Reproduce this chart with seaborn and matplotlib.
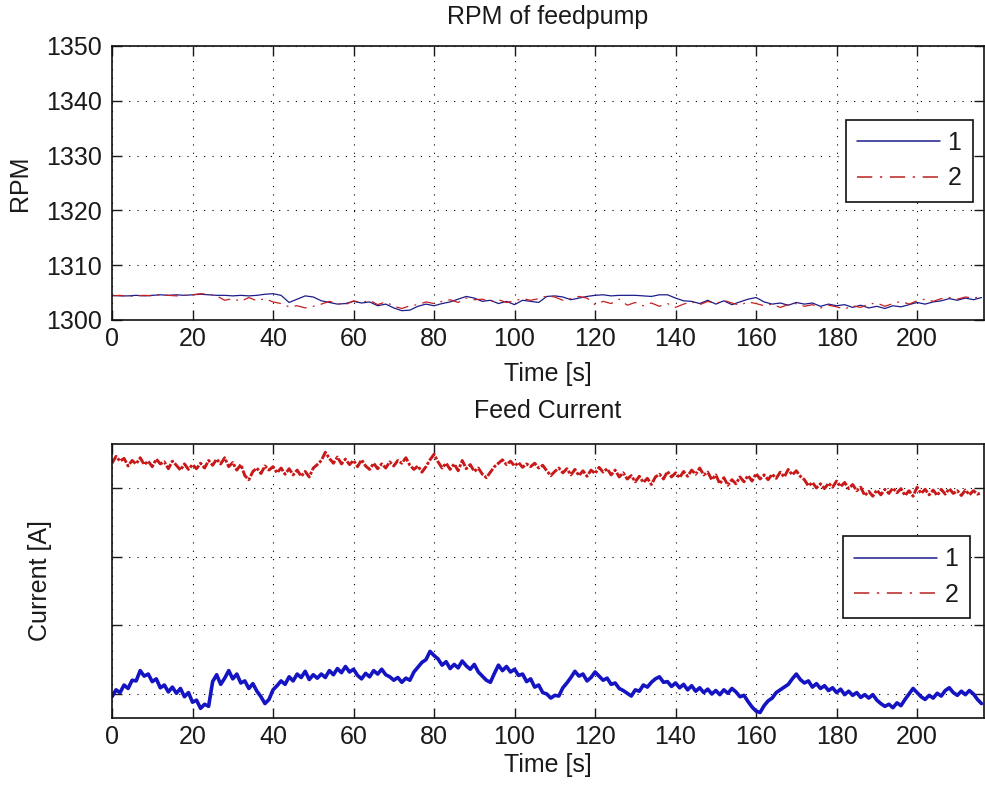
import numpy as np
import pandas as pd
import matplotlib
matplotlib.use("Agg")
import matplotlib.pyplot as plt
import seaborn as sns

# ---------------- data ----------------
series_names = ["1", "2"]
x_ticks = [0, 20, 40, 60, 80, 100, 120, 140, 160, 180, 200]
rpm_ticks = [1300, 1310, 1320, 1330, 1340, 1350]
cur_ticks = [10, 20, 30, 40]

t_rpm = np.arange(0, 217, 2)
rpm_1 = [1304.5, 1304.4, 1304.4, 1304.5, 1304.4, 1304.5, 1304.6, 1304.5, 1304.6, 1304.5,
         1304.6, 1304.7, 1304.6, 1304.5, 1304.5, 1304.4, 1304.5, 1304.4, 1304.5, 1304.7,
         1304.8, 1304.5, 1303.2, 1303.8, 1304.4, 1304.2, 1303.5, 1303.2, 1302.9, 1303.0,
         1303.4, 1303.1, 1303.3, 1302.6, 1302.9, 1302.2, 1301.7, 1301.8, 1302.5, 1302.9,
         1302.6, 1303.0, 1303.3, 1303.8, 1304.3, 1304.0, 1303.4, 1303.6, 1303.0, 1303.4,
         1302.8, 1303.6, 1303.4, 1303.2, 1304.3, 1304.4, 1304.2, 1303.7, 1304.0, 1304.3,
         1304.5, 1304.6, 1304.4, 1304.5, 1304.5, 1304.5, 1304.4, 1304.3, 1304.6, 1304.6,
         1304.0, 1303.5, 1303.4, 1303.0, 1303.6, 1302.9, 1303.5, 1302.8, 1303.3, 1303.8,
         1304.1, 1303.3, 1302.9, 1303.1, 1302.7, 1303.2, 1302.9, 1303.1, 1302.5, 1302.9,
         1302.6, 1302.8, 1302.3, 1302.7, 1302.2, 1302.5, 1302.1, 1302.6, 1302.4, 1302.8,
         1303.2, 1302.9, 1303.3, 1303.5, 1303.9, 1303.6, 1304.0, 1303.7, 1304.1]
rpm_2 = [1304.4, 1304.5, 1304.3, 1304.4, 1304.5, 1304.4, 1304.6, 1304.5, 1304.4, 1304.5,
         1304.6, 1304.8, 1304.7, 1304.4, 1303.6, 1303.9, 1303.4, 1304.1, 1303.5, 1303.9,
         1303.3, 1303.0, 1302.4, 1302.6, 1302.2, 1302.5, 1302.9, 1303.4, 1303.0, 1302.8,
         1303.5, 1303.2, 1303.6, 1302.8, 1303.3, 1302.5, 1302.1, 1302.6, 1302.8, 1303.3,
         1303.0, 1303.4, 1303.7, 1303.2, 1304.0, 1303.7, 1303.8, 1303.3, 1303.7, 1303.2,
         1303.5, 1303.9, 1303.6, 1303.9, 1304.4, 1304.2, 1303.6, 1303.9, 1304.3, 1304.0,
         1302.8, 1303.4, 1303.0, 1303.8, 1302.7, 1303.2, 1302.6, 1303.1, 1302.5, 1303.0,
         1302.3, 1302.9, 1303.3, 1302.8, 1303.4, 1303.0, 1303.6, 1303.1, 1302.7, 1303.3,
         1303.0, 1302.6, 1302.9, 1302.3, 1302.8, 1303.0, 1302.5, 1302.8, 1302.2, 1302.7,
         1302.4, 1302.0, 1302.6, 1302.3, 1302.9, 1303.1, 1302.5, 1303.0, 1303.4, 1302.9,
         1303.5, 1303.8, 1303.4, 1303.9, 1304.1, 1303.8, 1304.2, 1304.0, 1304.3]

t_cur = np.arange(0, 217, 1)
cur_1 = [9.6, 10.6, 10.2, 11.3, 10.8, 12.0, 11.9, 13.4, 12.6, 12.9,
         11.8, 12.2, 10.9, 11.3, 10.3, 11.0, 10.1, 10.8, 9.6, 10.2,
         8.8, 9.1, 7.9, 8.5, 8.2, 11.8, 12.8, 11.4, 12.3, 13.4,
         12.2, 12.9, 11.6, 11.9, 10.8, 11.5, 10.4, 9.6, 8.6, 9.2,
         10.6, 11.2, 11.9, 11.4, 12.5, 11.9, 12.9, 12.4, 13.3, 12.1,
         12.8, 12.3, 12.9, 12.4, 13.4, 12.8, 13.7, 13.1, 14.0, 13.2,
         13.6, 12.7, 12.2, 13.0, 12.5, 13.4, 12.9, 13.6, 12.8, 12.5,
         12.0, 12.4, 11.7, 12.3, 12.0, 13.2, 13.9, 14.6, 15.0, 16.2,
         15.6, 15.1, 14.2, 14.7, 13.7, 14.3, 13.8, 14.8, 14.1, 13.6,
         14.3, 13.2, 12.6, 12.0, 11.7, 13.0, 14.2, 13.4, 14.0, 13.2,
         13.6, 12.7, 12.9, 11.8, 12.2, 11.0, 11.3, 10.2, 10.0, 9.4,
         9.8, 9.7, 10.9, 11.6, 12.4, 13.3, 12.6, 12.9, 11.9, 12.4,
         13.2, 12.6, 12.0, 12.3, 11.4, 11.6, 10.8, 10.5, 10.1, 9.7,
         10.6, 10.4, 11.3, 11.0, 11.7, 12.2, 12.5, 11.7, 11.8, 11.1,
         11.6, 10.9, 11.4, 10.6, 11.2, 10.4, 10.9, 10.2, 10.7, 10.0,
         10.5, 9.9, 10.6, 10.1, 10.8, 10.3, 9.6, 9.8, 8.9, 8.1,
         7.5, 7.3, 8.3, 9.0, 9.4, 10.2, 10.6, 11.0, 11.4, 12.2,
         12.9, 12.1, 11.6, 11.9, 11.0, 11.5, 10.8, 11.2, 10.5, 10.9,
         10.2, 10.7, 9.9, 10.4, 9.8, 10.2, 9.5, 9.9, 9.4, 9.9,
         9.1, 8.6, 8.2, 8.5, 8.0, 8.7, 8.3, 9.2, 10.0, 10.8,
         10.2, 9.6, 9.2, 9.8, 9.4, 10.1, 9.7, 10.5, 10.9, 10.2,
         9.8, 10.4, 9.9, 10.5, 10.0, 9.2, 8.6]
cur_2 = [43.6, 44.6, 43.9, 44.3, 43.2, 44.0, 43.5, 44.4, 43.4, 43.9,
         43.1, 44.2, 43.5, 43.8, 42.8, 43.9, 43.3, 42.6, 43.5, 42.7,
         43.4, 42.8, 43.6, 42.9, 44.0, 43.3, 44.2, 43.5, 44.4, 43.1,
         43.7, 42.6, 43.4, 41.8, 41.2, 42.4, 42.9, 42.1, 43.2, 42.6,
         43.1, 42.2, 42.9, 42.0, 42.8, 41.9, 42.6, 41.7, 42.4, 41.6,
         42.9, 43.4, 44.0, 45.2, 44.3, 43.6, 44.5, 43.5, 44.2, 43.4,
         44.0, 43.1, 44.1, 43.2, 42.7, 43.6, 42.8, 43.5, 42.9, 43.8,
         43.2, 44.0, 43.6, 44.4, 43.3, 42.7, 43.2, 42.3, 43.1, 44.1,
         44.9, 43.8, 42.9, 43.6, 42.7, 43.5, 42.5, 44.0, 42.8, 43.4,
         42.4, 42.9, 42.0, 41.5, 42.3, 43.1, 43.6, 44.1, 43.4, 43.9,
         43.2, 43.7, 43.0, 43.5, 43.1, 43.6, 42.9, 43.3, 42.5, 41.8,
         42.4, 42.9, 42.2, 42.8, 41.9, 42.7, 41.8, 42.5, 41.7, 42.6,
         42.1, 43.0, 42.3, 42.8, 41.9, 42.6, 41.6, 42.2, 41.3, 41.8,
         40.9, 41.7, 40.8, 41.4, 40.5, 41.6, 42.0, 41.3, 42.4, 41.6,
         42.2, 41.5, 42.4, 41.7, 42.6, 42.0, 42.9, 41.9, 42.3, 41.2,
         41.9, 40.6, 41.5, 40.4, 41.2, 40.6, 41.6, 40.9, 41.8, 41.0,
         42.1, 41.3, 41.9, 41.2, 42.0, 41.4, 42.3, 41.6, 42.7, 41.9,
         42.5, 41.7, 41.2, 40.3, 40.8, 40.0, 40.6, 39.9, 40.7, 40.1,
         41.0, 40.2, 40.8, 39.9, 40.5, 39.6, 40.1, 38.9, 39.5, 38.8,
         39.7, 39.0, 39.8, 39.2, 40.0, 39.3, 39.9, 38.9, 39.6, 38.8,
         40.1, 39.2, 39.8, 39.0, 39.7, 38.9, 39.8, 39.1, 39.9, 39.2,
         39.6, 38.9, 39.7, 39.0, 39.6, 39.1, 39.3]

assert len(rpm_1) == len(t_rpm) == len(rpm_2)
assert len(cur_1) == len(t_cur) == len(cur_2)

df_rpm = pd.concat([
    pd.DataFrame({"t": t_rpm, "v": rpm_1, "s": series_names[0]}),
    pd.DataFrame({"t": t_rpm, "v": rpm_2, "s": series_names[1]}),
], ignore_index=True)
df_cur = pd.concat([
    pd.DataFrame({"t": t_cur, "v": cur_1, "s": series_names[0]}),
    pd.DataFrame({"t": t_cur, "v": cur_2, "s": series_names[1]}),
], ignore_index=True)

# ---------------- style ----------------
sns.set_style("ticks")
plt.rcParams["font.family"] = ["Liberation Sans", "DejaVu Sans"]
plt.rcParams["text.color"] = "#1a1a1a"
plt.rcParams["axes.labelcolor"] = "#1a1a1a"
plt.rcParams["xtick.color"] = "#1a1a1a"
plt.rcParams["ytick.color"] = "#1a1a1a"

FS = 18
W, H = 985, 791
fig = plt.figure(figsize=(W / 100, H / 100), dpi=100, facecolor="white")

left = 112 / W
width = (983.5 - 112) / W
ax_h = 274 / H
ax1 = fig.add_axes([left, 1 - 320 / H, width, ax_h])
ax2 = fig.add_axes([left, 1 - 718 / H, width, ax_h])

LEG_DASH = (10, 5, 1.5, 5)


def style_axes(ax):
    ax.set_xlim(0, 216.5)
    ax.set_xticks(x_ticks)
    ax.grid(True, which="major", color="black", linestyle=(0, (1, 6.5)), linewidth=0.8)
    ax.tick_params(direction="in", length=7, width=1, top=True, right=True,
                   labelsize=FS)
    ax.tick_params(axis="x", pad=5)
    ax.tick_params(axis="y", pad=7)
    for sp in ax.spines.values():
        sp.set_visible(True)
        sp.set_color("#111111")
        sp.set_linewidth(1.2)
    ax.set_facecolor("white")


# top: RPM
sns.lineplot(data=df_rpm, x="t", y="v", hue="s", style="s",
             palette={"1": "#1c1c8c", "2": "#c42020"},
             dashes={"1": "", "2": LEG_DASH},
             estimator=None, sort=False, linewidth=0.9, ax=ax1)
ax1.set_ylim(1300, 1350)
ax1.set_yticks(rpm_ticks)
style_axes(ax1)
ax1.set_title("RPM of feedpump", fontsize=FS, pad=15.5)
ax1.set_xlabel("Time [s]", fontsize=FS)
ax1.set_ylabel("RPM", fontsize=FS)
ax1.xaxis.set_label_coords(0.5, -0.155)
ax1.yaxis.set_label_coords(-0.0918, 0.5)

# bottom: Current
sns.lineplot(data=df_cur, x="t", y="v", hue="s", style="s",
             palette={"1": "#1414c2", "2": "#c81818"},
             dashes={"1": "", "2": (3, 0.6, 1, 0.6)},
             estimator=None, sort=False, linewidth=2.1, ax=ax2)
for ln in ax2.lines:
    if ln.get_linestyle() == "-":
        ln.set_linewidth(2.6)
ax2.set_ylim(6.5, 46.4)
ax2.set_yticks(cur_ticks)
style_axes(ax2)
ax2.set_yticklabels([])
ax2.set_title("Feed Current", fontsize=FS, pad=18.5)
ax2.set_xlabel("Time [s]", fontsize=FS)
ax2.set_ylabel("Current [A]", fontsize=FS)
ax2.xaxis.set_label_coords(0.5, -0.127)
ax2.yaxis.set_label_coords(-0.0688, 0.5)

leg_kw = dict(title=None, frameon=True, fontsize=FS, handlelength=3.3,
              handletextpad=0.3, borderpad=0.45, labelspacing=0.45,
              fancybox=False, framealpha=1.0, edgecolor="#111111",
              borderaxespad=0.0)
sns.move_legend(ax1, "upper right", bbox_to_anchor=(0.9874, 0.73), **leg_kw)
sns.move_legend(ax2, "upper right", bbox_to_anchor=(0.984, 0.664), **leg_kw)
leg_colors = {"1": "#1c1c8c", "2": "#b82020"}
for ax in (ax1, ax2):
    lg = ax.get_legend()
    lg.get_frame().set_linewidth(1.2)
    for line, txt in zip(lg.get_lines(), lg.get_texts()):
        line.set_linewidth(1.1)
        line.set_color(leg_colors[txt.get_text()])
        if txt.get_text() == "2":
            line.set_dashes(LEG_DASH)
        else:
            line.set_linestyle("-")

fig.savefig("out.png", dpi=100, facecolor="white")
